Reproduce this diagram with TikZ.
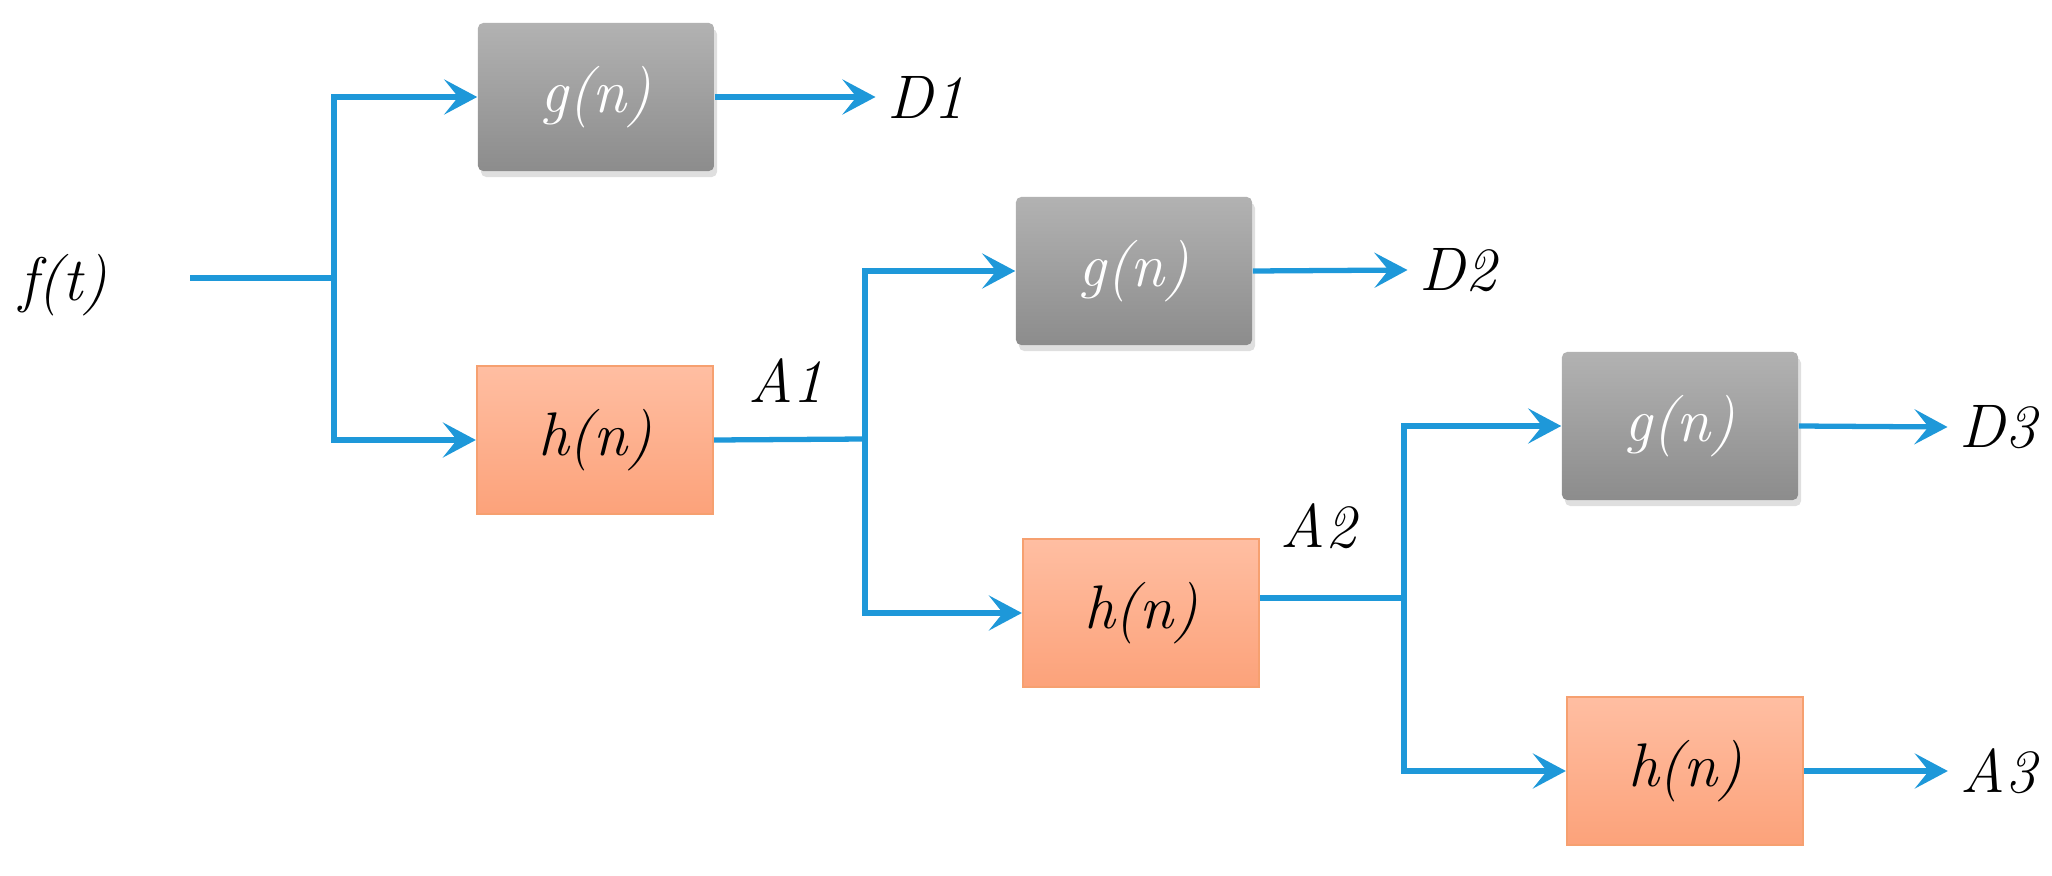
\documentclass[tikz,border=0pt]{standalone}
\usetikzlibrary{arrows.meta,shadows}
\definecolor{sigblue}{HTML}{1E98D9}
\definecolor{gtop}{HTML}{B2B2B2}
\definecolor{gbot}{HTML}{8C8C8C}
\definecolor{htop}{HTML}{FFBEA2}
\definecolor{hbot}{HTML}{FCA27A}
\definecolor{hline}{HTML}{F6A070}
\tikzset{
  wire/.style={sigblue,line width=1.5pt},
  feed/.style={wire,-{Stealth[length=3.3mm,width=3.5mm,inset=1.4mm]}},
  lbl/.style={font=\fontsize{17.5}{21}\selectfont\itshape},
  gbox/.style={lbl,text=white,rounded corners=1.5pt,top color=gtop,bottom color=gbot,
    minimum width=2.36cm,minimum height=1.48cm,
    drop shadow={opacity=0.25,shadow xshift=0.3mm,shadow yshift=-0.6mm}},
  hbox/.style={lbl,draw=hline,line width=0.6pt,top color=htop,bottom color=hbot,
    minimum width=2.36cm,minimum height=1.48cm}
}
\begin{document}
\begin{tikzpicture}[x=0.01cm,y=-0.01cm]
            \useasboundingbox (0,0) rectangle (2052,876);
            % Filter boxes
            \node[gbox] (g1) at (596,97) {g(n)};
            \node[hbox] (h1) at (595,440) {h(n)};
            \node[gbox] (g2) at (1134,271) {g(n)};
            \node[hbox] (h2) at (1141,613) {h(n)};
            \node[gbox] (g3) at (1680,426) {g(n)};
            \node[hbox] (h3) at (1685,771) {h(n)};
            % Signals
            \node[lbl] (ft) at (63,285) {f(t)};
            \node[lbl] (d1) at (926,97) {D1};
            \node[lbl] (d2) at (1458,270) {D2};
            \node[lbl] (d3) at (1998,427) {D3};
            \node[lbl] (a3) at (1998,771) {A3};
            \node[lbl] (a1) at (786,381) {A1};
            \node[lbl] (a2) at (1318,526) {A2};
            % Splits
            \coordinate (in) at (190,278);
            \coordinate (s1) at (334,278);
            \coordinate (s2) at (865,439);
            \coordinate (s3) at (1404,598);
            \draw[wire] (in) -- (s1);
            \draw[feed] (s1) |- (g1.west);
            \draw[feed] (s1) |- (h1.west);
            \draw[feed] (g1.east) -- (d1.west);
            \draw[wire] (h1.east) -- (s2);
            \draw[feed] (s2) |- (g2.west);
            \draw[feed] (s2) |- (h2.west);
            \draw[feed] (g2.east) -- (d2.west);
            \draw[wire] (h2.east |- s3) -- (s3);
            \draw[feed] (s3) |- (g3.west);
            \draw[feed] (s3) |- (h3.west);
            \draw[feed] (g3.east) -- (d3.west);
            \draw[feed] (h3.east) -- (a3.west);
\end{tikzpicture}
\end{document}
